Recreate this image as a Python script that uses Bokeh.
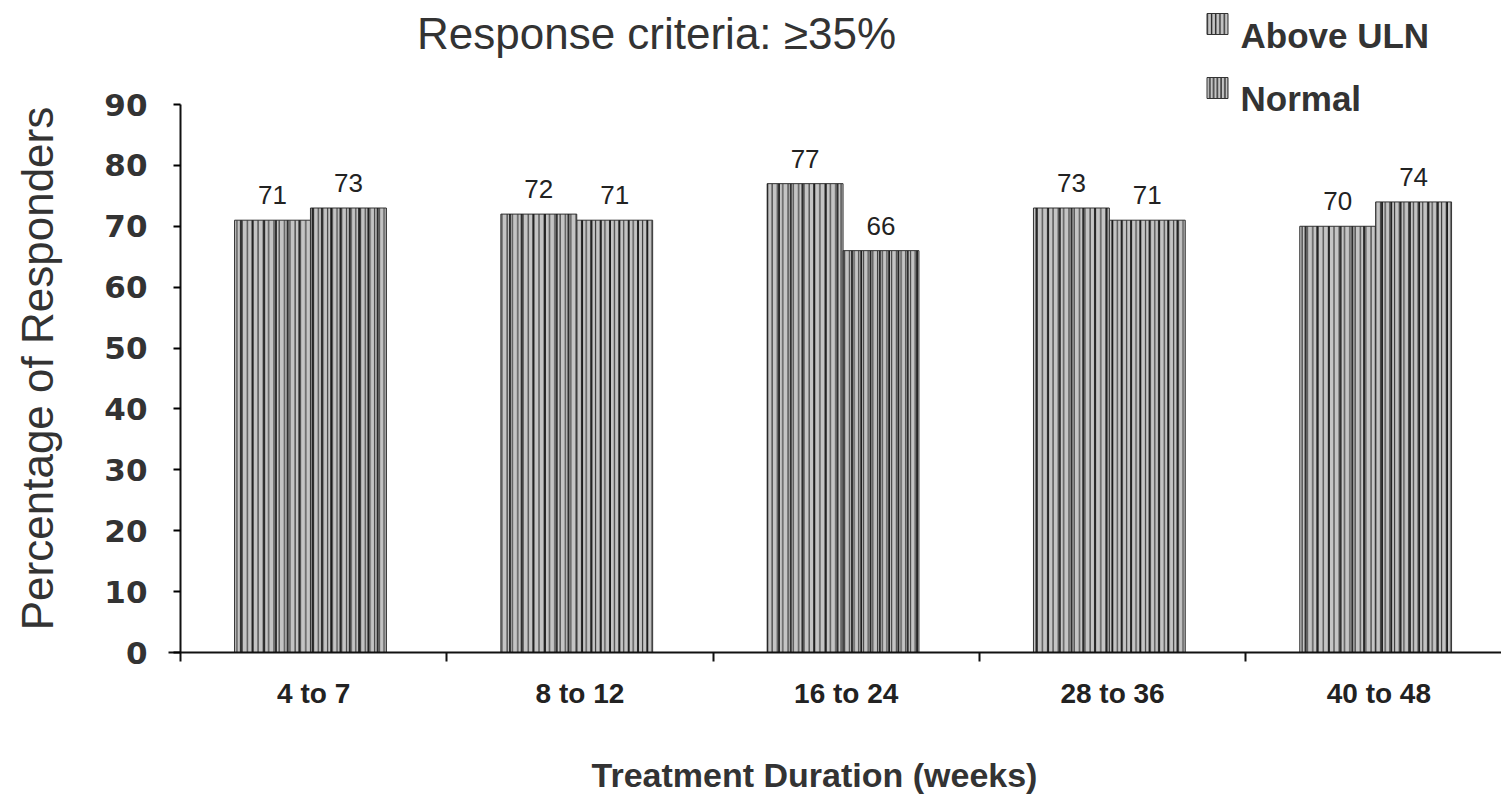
import math

from bokeh.core.properties import value
from bokeh.embed import file_html
from bokeh.models import ColumnDataSource, FixedTicker, Range1d
from bokeh.plotting import figure
from bokeh.resources import INLINE

# Response rates by treatment duration
categories = ["4 to 7", "8 to 12", "16 to 24", "28 to 36", "40 to 48"]
above_uln = [71, 72, 77, 73, 70]
normal = [73, 71, 66, 71, 74]
series_names = ["Above ULN", "Normal"]
y_ticks = [0, 10, 20, 30, 40, 50, 60, 70, 80, 90]

title_text = "Response criteria: \u226535%"
y_title = "Percentage of Responders"
x_title = "Treatment Duration (weeks)"

# Layout (pixels): the frame fills the canvas, the axes sit at fixed locations
W, H = 1501, 794
X0_PX, Y0_PX = 180, 652   # pixel position of the origin
CAT_PX = 266.3            # pixel width of one duration group
Y_AXIS_PX = 548.0         # pixel length of the 0..90 axis
PX_PER_Y = Y_AXIS_PX / 90.0


def px_to_x(px):
    return (px - X0_PX) / CAT_PX


def px_to_y(py):
    return (Y0_PX - py) / PX_PER_Y


p = figure(
    width=W, height=H,
    x_range=Range1d(px_to_x(0), px_to_x(W)), y_range=Range1d(px_to_y(H), px_to_y(0)),
    output_backend="svg", toolbar_location=None,
    min_border_left=0, min_border_right=0, min_border_top=0, min_border_bottom=0,
)
p.outline_line_color = None
p.xgrid.grid_line_color = None
p.ygrid.grid_line_color = None
p.background_fill_color = "white"

BAR_W = 0.285
SHIFT = -0.012
idx = list(range(len(categories)))
x_above = [i + 0.5 + SHIFT - BAR_W / 2 for i in idx]
x_normal = [i + 0.5 + SHIFT + BAR_W / 2 for i in idx]

src_above = ColumnDataSource(dict(x=x_above, top=above_uln, lbl=[str(v) for v in above_uln]))
src_normal = ColumnDataSource(dict(x=x_normal, top=normal, lbl=[str(v) for v in normal]))


def striped_bars(src, fine, coarse):
    p.vbar(x="x", top="top", width=BAR_W, source=src,
           fill_color="#c4c4c4", line_color="#333333", line_width=1,
           hatch_pattern="vertical_line", hatch_color="#404040",
           hatch_scale=fine, hatch_weight=1.2)
    p.vbar(x="x", top="top", width=BAR_W, source=src,
           fill_color=None, line_color=None,
           hatch_pattern="vertical_line", hatch_color="#181818",
           hatch_scale=coarse, hatch_weight=1.7)


striped_bars(src_above, 5.3, 11.7)
striped_bars(src_normal, 4.7, 9.3)

for src in (src_above, src_normal):
    p.text(x="x", y="top", text="lbl", source=src, y_offset=-16,
           text_align="center", text_baseline="bottom",
           text_font=value("Liberation Sans"), text_font_size="26px",
           text_color="#222222")

# Y axis, crossing at x = 0
ya = p.yaxis[0]
ya.fixed_location = 0
ya.bounds = (0, 90)
ya.ticker = FixedTicker(ticks=y_ticks)
ya.axis_line_width = 2
ya.axis_line_color = "#111111"
ya.major_tick_out = 7
ya.major_tick_in = 0
ya.major_tick_line_width = 2
ya.minor_tick_line_color = None
ya.major_label_standoff = 26
ya.major_label_text_font = "DejaVu Sans"
ya.major_label_text_font_style = "bold"
ya.major_label_text_font_size = "31px"
ya.major_label_text_color = "#333333"

# X axis, crossing at y = 0: labels centred in each group, ticks at group boundaries
xa = p.xaxis[0]
xa.fixed_location = 0
xa.bounds = (px_to_x(168), px_to_x(W))
centers = [i + 0.5 for i in idx]
xa.ticker = FixedTicker(ticks=centers, minor_ticks=[i for i in range(len(categories) + 1)])
xa.major_label_overrides = {c: lab for c, lab in zip(centers, categories)}
xa.axis_line_width = 2
xa.axis_line_color = "#111111"
xa.major_tick_out = 0
xa.major_tick_in = 0
xa.major_tick_line_color = None
xa.minor_tick_out = 9
xa.minor_tick_in = 0
xa.minor_tick_line_width = 2
xa.minor_tick_line_color = "#111111"
xa.major_label_standoff = 16
xa.major_label_text_font = "Liberation Sans"
xa.major_label_text_font_style = "bold"
xa.major_label_text_font_size = "28px"
xa.major_label_text_color = "#222222"

# Axis titles
p.text(x=[px_to_x(37)], y=[px_to_y(368)], text=[y_title], angle=math.pi / 2,
       text_align="center", text_baseline="middle",
       text_font=value("Liberation Sans"), text_font_size="44px",
       text_color="#333333")
p.text(x=[px_to_x(814)], y=[px_to_y(774)], text=[x_title],
       text_align="center", text_baseline="middle",
       text_font=value("Liberation Sans"), text_font_style="bold",
       text_font_size="34px", text_color="#333333")

# Chart title
p.text(x=[px_to_x(656)], y=[px_to_y(33)], text=[title_text],
       text_align="center", text_baseline="alphabetic",
       text_font=value("Liberation Sans"), text_font_size="44px",
       text_color="#333333")

# Legend
leg_x = px_to_x(1217)
leg_y = [px_to_y(23.5), px_to_y(87.5)]
for yy, scale in zip(leg_y, (5.3, 4.7)):
    p.rect(x=[leg_x], y=[yy], width=21, height=21,
           width_units="screen", height_units="screen",
           fill_color="#c4c4c4", line_color="#333333", line_width=1,
           hatch_pattern="vertical_line", hatch_color="#202020",
           hatch_scale=scale * 0.8, hatch_weight=1.3)
p.text(x=[px_to_x(1240)] * 2, y=[px_to_y(35), px_to_y(98)], text=series_names,
       text_align="left", text_baseline="alphabetic",
       text_font=value("Liberation Sans"), text_font_style="bold",
       text_font_size="35px", text_color="#333333")

open("out.html", "w").write(file_html(p, INLINE))
